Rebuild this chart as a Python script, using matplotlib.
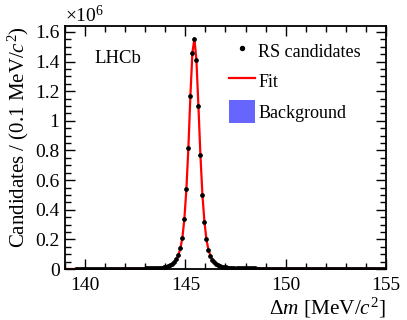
import numpy as np
import matplotlib
matplotlib.use("Agg")
import matplotlib.pyplot as plt
from matplotlib.ticker import MultipleLocator, FuncFormatter

plt.rcParams['font.family'] = ['Liberation Serif', 'DejaVu Serif']
plt.rcParams['mathtext.fontset'] = 'custom'
plt.rcParams['mathtext.rm'] = 'Liberation Serif'
plt.rcParams['mathtext.it'] = 'Liberation Serif:italic'

########
# data #
########
# bin centres of the fit curve, 0.1 MeV bins from 139.05 to 154.95
bin_lo = 139.05
bin_width = 0.1
fit_counts = [
    700, 720, 740, 760, 780, 800, 820, 840, 870, 900,                         # 139
    930, 960, 990, 1020, 1060, 1100, 1140, 1180, 1230, 1280,                  # 140
    1330, 1390, 1450, 1520, 1590, 1670, 1750, 1840, 1940, 2050,               # 141
    2170, 2300, 2440, 2600, 2780, 2980, 3200, 3450, 3730, 4050,               # 142
    4400, 4800, 5300, 5850, 6500, 7300, 8200, 9300, 10600, 12200,             # 143
    15000, 19000, 25000, 33000, 45000, 65000, 95000, 140000, 210000, 340000,  # 144
    540000, 820000, 1170000, 1460000, 1555000, 1410000, 1100000, 770000, 500000, 320000,  # 145
    200000, 130000, 90000, 63000, 46000, 35000, 27000, 21000, 17000, 14000,   # 146
    12000, 10500, 9300, 8400, 7600, 7000, 6500, 6100, 5700, 5400,            # 147
    5100, 4850, 4650, 4450, 4300, 4150, 4000, 3880, 3770, 3670,              # 148
    3580, 3500, 3420, 3350, 3280, 3220, 3160, 3100, 3050, 3000,              # 149
    2950, 2900, 2860, 2820, 2780, 2740, 2700, 2670, 2640, 2610,              # 150
    2580, 2550, 2520, 2490, 2460, 2430, 2400, 2380, 2360, 2340,              # 151
    2320, 2300, 2280, 2260, 2240, 2220, 2200, 2180, 2160, 2140,              # 152
    2120, 2100, 2080, 2060, 2040, 2020, 2000, 1980, 1960, 1940,              # 153
    1920, 1900, 1880, 1860, 1840, 1820, 1800, 1780, 1760, 1740,              # 154
]
# data points start at 139.55
first_data_bin = 5

bkg_x = [139.57, 140, 141, 142, 143, 144, 146, 148, 150, 152, 155]
bkg_y = [0, 400, 700, 900, 1050, 1150, 1300, 1400, 1450, 1500, 1550]

x_fit = bin_lo + bin_width * np.arange(len(fit_counts))
y_fit = np.array(fit_counts, dtype=float)
x_data = x_fit[first_data_bin:]
y_data = y_fit[first_data_bin:]

########
# plot #
########
fig = plt.figure(figsize=(4.07, 3.20), dpi=100)
ax = fig.add_axes([0.160, 0.159, 0.788, 0.760])

ax.fill_between(bkg_x, 0, bkg_y, color='#6666ff', lw=0, label='Background', zorder=1)
ax.plot(x_fit, y_fit, color='red', lw=1.6, label='Fit', zorder=2)
ax.plot(x_data, y_data, 'o', color='black', ms=2.4, label='RS candidates', zorder=3)

ax.set_xlim(139, 155)
ax.set_ylim(0, 1.64e6)

ax.xaxis.set_major_locator(MultipleLocator(5))
ax.xaxis.set_minor_locator(MultipleLocator(1))
ax.yaxis.set_major_locator(MultipleLocator(0.2e6))
ax.yaxis.set_minor_locator(MultipleLocator(0.05e6))
ax.yaxis.set_major_formatter(FuncFormatter(lambda v, p: ('%g' % round(v / 1e6, 2))))

ax.tick_params(which='both', direction='in', top=True, right=True, width=1.0,
               labelsize=14, colors='black')
ax.tick_params(which='major', length=7)
ax.tick_params(which='minor', length=4)
ax.tick_params(axis='x', pad=6)
ax.tick_params(axis='y', pad=4)
for s in ax.spines.values():
    s.set_linewidth(1.3)

ax.set_xlabel(r'$\Delta m$ [MeV/$c^2$]', fontsize=15.3, loc='right', labelpad=1)
ax.set_ylabel(r'Candidates / (0.1 MeV/$c^2$)', fontsize=15, loc='top', labelpad=3)

ax.text(0.0, 1.0, r'$\times$10$^6$', transform=ax.transAxes, fontsize=14,
        ha='left', va='bottom')
ax.text(0.093, 0.868, 'LHCb', transform=ax.transAxes, fontsize=13.5,
        ha='left', va='center')

handles, labels = ax.get_legend_handles_labels()
order = [2, 1, 0]
leg = ax.legend([handles[i] for i in order], [labels[i] for i in order],
                loc='upper left', bbox_to_anchor=(0.49, 0.975), frameon=False,
                fontsize=13, labelspacing=0.4, handlelength=1.4, handleheight=1.6,
                handletextpad=0.2, markerscale=1.2, borderaxespad=0.0)

fig.savefig('out.png', dpi=100)
